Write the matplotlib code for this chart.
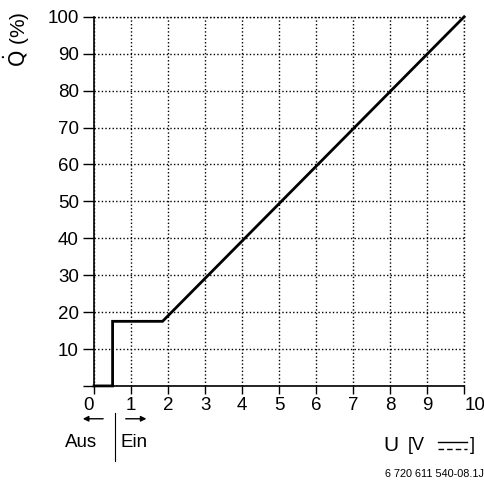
import matplotlib
matplotlib.use("Agg")
from matplotlib import pyplot as plt
from matplotlib.lines import Line2D

plt.rcParams['font.family'] = ['Liberation Sans', 'DejaVu Sans']

# characteristic curve: heat output vs control voltage
u_volt = [0, 0.5, 0.5, 1.85, 10]
q_pct = [0, 0, 17.5, 17.5, 100]

x_ticks = list(range(0, 11))
y_ticks = list(range(0, 101, 10))
y_labels = [""] + [str(v) for v in y_ticks[1:]]

fig = plt.figure(figsize=(4.85, 4.80), dpi=100)
ax = fig.add_axes([0.194, 0.196, 0.763, 0.769])

ax.plot(u_volt, q_pct, color='black', lw=2, solid_joinstyle='miter', zorder=3, clip_on=False)

ax.set_xlim(0, 10)
ax.set_ylim(0, 100)
ax.set_xticks(x_ticks)
ax.set_yticks(y_ticks)
ax.set_yticklabels(y_labels)
ax.tick_params(axis='both', labelsize=13.5, direction='out', width=1, color='black')
ax.tick_params(axis='y', length=8, pad=3)
ax.tick_params(axis='x', length=6, pad=2)
xl = ax.get_xticklabels()
xl[0].set_horizontalalignment('right')
xl[-1].set_horizontalalignment('left')

dots = (0, (1, 1.6))
ax.grid(True, linestyle=dots, color='black', lw=1)
for s in ['top', 'right']:
    ax.spines[s].set_visible(False)
for s in ['left', 'bottom']:
    ax.spines[s].set_linewidth(1.2)
# top and right border drawn as dotted grid lines
ax.axhline(100, linestyle=dots, color='black', lw=1, clip_on=False)
ax.axvline(10, linestyle=dots, color='black', lw=1, clip_on=False)

fig.text(0.034, 0.919, r"$\dot{\mathrm{Q}}$ (%)", rotation=90, fontsize=15,
         ha='center', va='center')

# Aus / Ein marker below the axis
ax.annotate("", xy=(-0.38, -8.9), xytext=(0.32, -8.9), xycoords='data',
            arrowprops=dict(arrowstyle='-|>', color='black', lw=1, mutation_scale=8),
            annotation_clip=False)
ax.annotate("", xy=(1.49, -8.9), xytext=(0.78, -8.9), xycoords='data',
            arrowprops=dict(arrowstyle='-|>', color='black', lw=1, mutation_scale=8),
            annotation_clip=False)
ax.plot([0.57, 0.57], [-7.3, -20.3], color='black', lw=0.8, clip_on=False)
ax.text(0.08, -15.2, "Aus", fontsize=13.5, ha='right', va='center')
ax.text(0.72, -15.2, "Ein", fontsize=13.5, ha='left', va='center')

# axis label U [V DC]
fig.text(0.806, 0.071, "U", fontsize=15, ha='center', va='center')
fig.text(0.841, 0.071, "[V", fontsize=13, ha='left', va='center')
fig.text(0.968, 0.071, "]", fontsize=13, ha='left', va='center')
fig.add_artist(Line2D([0.903, 0.963], [0.079, 0.079], color='black', lw=1,
                      transform=fig.transFigure))
fig.add_artist(Line2D([0.903, 0.963], [0.065, 0.065], color='black', lw=1,
                      linestyle=(0, (4, 2.2)), transform=fig.transFigure))

fig.text(0.895, 0.013, "6 720 611 540-08.1J", fontsize=7.8, ha='center', va='center')

plt.savefig("out.png")
